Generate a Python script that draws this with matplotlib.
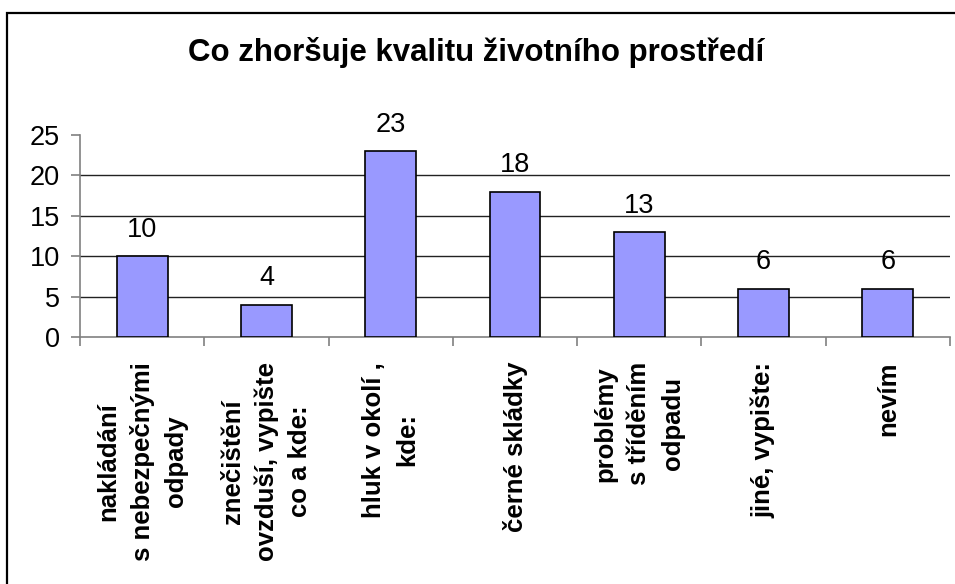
import matplotlib.pyplot as plt
from matplotlib.patches import Rectangle
import numpy as np

plt.rcParams['font.family'] = ['Liberation Sans', 'DejaVu Sans']

# data
chartTitle = "Co zhoršuje kvalitu životního prostředí"
categories = ["nakládání\ns nebezpečnými\nodpady",
              "znečištění\novzduší, vypište\nco a kde:",
              "hluk v okolí ,\nkde:",
              "černé skládky",
              "problémy\ns tříděním\nodpadu",
              "jiné, vypište:",
              "nevím"]
counts = [10, 4, 23, 18, 13, 6, 6]
yTicks = [0, 5, 10, 15, 20, 25]

barColor = "#9999FF"
axisGray = "#808080"

fig = plt.figure(figsize=(9.55, 5.84), dpi=100)
ax = fig.add_axes([80/955, 1 - 337/584, 870/955, 202/584])

x = np.arange(len(categories))
ax.bar(x, counts, width=0.41, color=barColor, edgecolor="black", linewidth=1.2, zorder=3)

for xi, v in zip(x, counts):
    ax.annotate(str(v), (xi, v), xytext=(0, 14), textcoords="offset points",
                ha="center", va="baseline", fontsize=19.5, clip_on=False)

ax.set_xlim(-0.5, len(categories) - 0.5)
ax.set_ylim(yTicks[0], yTicks[-1])
ax.set_yticks(yTicks)
# gridlines only between bottom and top
for g in yTicks[1:-1]:
    ax.axhline(g, color="#222222", linewidth=1.0, zorder=1)

ax.set_xticks(x)
ax.set_xticklabels(categories, rotation=90, fontweight="bold", fontsize=18.5,
                   ha="center", va="top", multialignment="center", linespacing=1.5)
ax.set_xticks(np.arange(len(categories) + 1) - 0.5, minor=True)
ax.tick_params(axis="x", which="major", length=0, pad=18)
ax.tick_params(axis="x", which="minor", length=6.5, color=axisGray, width=1.2)
ax.tick_params(axis="y", length=6.5, color=axisGray, width=1.2, labelsize=19.5, pad=8)

for side in ["top", "right"]:
    ax.spines[side].set_visible(False)
for side in ["left", "bottom"]:
    ax.spines[side].set_color(axisGray)
    ax.spines[side].set_linewidth(1.2)

fig.text(476/955, 1 - 52/584, chartTitle, ha="center", va="center",
         fontsize=22.5, fontweight="bold")

# outer chart border (runs off the right and bottom edge)
fig.patches.append(Rectangle((7/955, -0.05), 1.1, 1.05 + (1 - 13/584) - 1,
                             transform=fig.transFigure, fill=False,
                             edgecolor="black", linewidth=1.6))

fig.savefig("out.png", dpi=100)
